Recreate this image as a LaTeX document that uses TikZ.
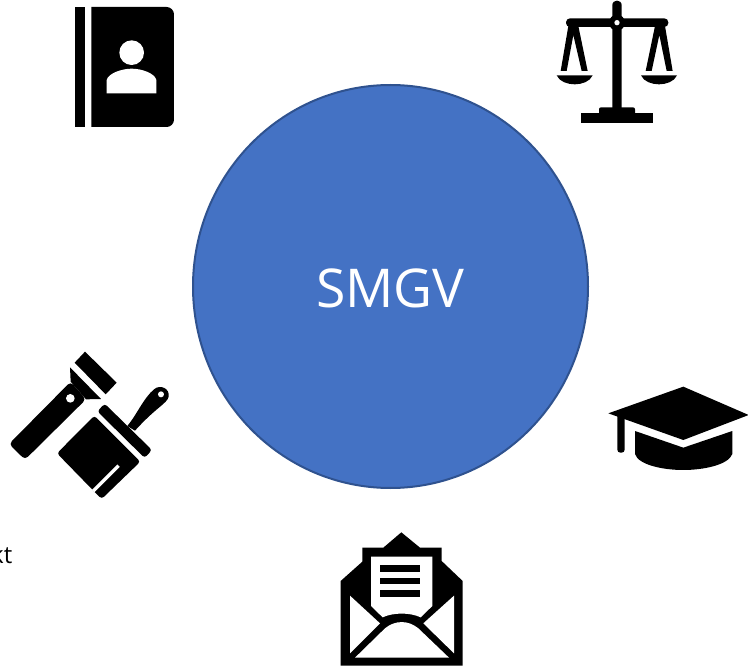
\documentclass[tikz,border=0pt]{standalone}
\usepackage{fontspec}
\setmainfont{Open Sans}
\definecolor{hubfill}{HTML}{4472C4}
\definecolor{hubline}{HTML}{2F528F}
\tikzset{
  hub/.style={ellipse,fill=hubfill,draw=hubline,line width=2pt,minimum width=395pt,minimum height=403pt,inner sep=0pt,text=white,font=\fontsize{53.5}{64}\selectfont},
  ink/.style={fill=black,draw=none},
  hole/.style={fill=white,draw=none},
  zoomed/.style={x=0.33333pt,y=-0.33333pt}
}
\usetikzlibrary{shapes.geometric}
\begin{document}
\begin{tikzpicture}[x=1pt,y=-1pt]
\useasboundingbox (0,0) rectangle (748,666);
\fill[white] (0,0) rectangle (748,666);
\node[hub,text depth=0pt] (smgv) at (390.5,286.5) {\raisebox{-3pt}{SMGV}};
% left text fragment
\begin{scope}
\clip (0,530) rectangle (30,580);
\node[anchor=base east,inner sep=0pt,font=\fontsize{24}{28}\selectfont] (frag) at (12.5,563) {kt};
\end{scope}
% address book
\begin{scope}[shift={(50,0)},zoomed]
\fill[ink] (75,21) rectangle (105,381);
\fill[ink] (124,21) -- (350,21) .. controls (362,21) and (372,31) .. (372,43) -- (372,359) .. controls (372,371) and (362,381) .. (350,381) -- (124,381) -- cycle;
\fill[hole] (245,158) circle[radius=37];
\fill[hole] (170,280) -- (170,240) .. controls (175,220) and (215,206) .. (245,206) .. controls (275,206) and (315,220) .. (319,240) -- (319,280) -- cycle;
\end{scope}
% scales
\begin{scope}[shift={(540,0)},zoomed]
\fill[ink] (217,16) .. controls (217,-3) and (245,-3) .. (245,16) -- (245,325) -- (217,325) -- cycle;
\fill[ink,rounded corners=4pt] (78,55) rectangle (385,81);
\fill[ink] (231,68) circle[radius=24];
\fill[hole] (231,68) circle[radius=8];
\fill[ink] (123,340) rectangle (340,368);
\fill[ink,rounded corners=2pt] (177,322) rectangle (285,345);
% left frame
\fill[ink] (85,78) -- (115,78) -- (143,213) -- (125,213) -- (100,105) -- (80,213) -- (62,213) -- cycle;
\fill[ink] (50,226) -- (158,226) .. controls (150,245) and (125,253) .. (104,253) .. controls (83,253) and (58,245) .. (50,226) -- cycle;
% right frame
\fill[ink] (345,78) -- (375,78) -- (398,213) -- (380,213) -- (358,105) -- (335,213) -- (317,213) -- cycle;
\fill[ink] (303,226) -- (411,226) .. controls (403,245) and (378,253) .. (357,253) .. controls (336,253) and (311,245) .. (303,226) -- cycle;
\end{scope}
% flashlight and brush
\begin{scope}[shift={(0,340)},zoomed]
\fill[ink] (255,35) -- (350,128) -- (317,163) -- (224,68) -- cycle;
\fill[ink,rounded corners=4pt] (212,125) -- (27,312) -- (75,359) -- (258,178) -- cycle;
\fill[ink] (210,82) -- (303,177) -- (258,178) -- (212,125) -- cycle;
\fill[hole] (211,175) circle[radius=13];
% brush
\fill[ink,rounded corners=3pt] (314,191) -- (456,330) -- (434,354) -- (292,214) -- cycle;
\fill[ink,rounded corners=3pt] (283,227) -- (421,365) -- (305,477) -- (288,460) -- (171,340) -- cycle;
\draw[white,line width=3.3pt] (356,377) -- (280,453);
\fill[ink] (382,258) .. controls (410,225) and (430,175) .. (462,148) .. controls (480,132) and (510,145) .. (506,170) .. controls (500,192) and (470,200) .. (405,272) -- cycle;
\fill[hole] (483,163) circle[radius=9];
\end{scope}
% graduation cap
\begin{scope}[shift={(600,380)},zoomed]
\fill[ink] (25,100) -- (250,20) -- (446,105) -- (250,180) -- cycle;
\fill[ink,rounded corners=3pt] (52,100) -- (74,100) -- (74,218) -- (52,218) -- cycle;
\fill[ink] (105,153) -- (250,203) -- (397,153) -- (397,222) .. controls (385,255) and (310,270) .. (250,270) .. controls (190,270) and (115,255) .. (105,222) -- cycle;
\end{scope}
% open envelope
\begin{scope}[shift={(330,525)},zoomed]
\fill[ink] (32,168) -- (97,110) -- (97,68) -- (160,68) -- (214,22) -- (270,68) -- (335,68) -- (335,108) -- (398,168) -- (398,422) -- (32,422) -- cycle;
\fill[hole] (123,95) -- (307,95) -- (307,243) -- (272,277) .. controls (240,262) and (190,262) .. (158,277) -- (123,243) -- cycle;
\fill[ink] (150,120) rectangle (270,140);
\fill[ink] (150,158) rectangle (270,178);
\fill[ink] (150,195) rectangle (270,215);
\fill[hole] (60,212) -- (150,295) -- (60,385) -- cycle;
\fill[hole] (372,212) -- (280,295) -- (372,385) -- cycle;
\fill[hole] (75,398) -- (165,310) .. controls (195,285) and (235,285) .. (265,310) -- (357,398) -- cycle;
\end{scope}
\end{tikzpicture}
\end{document}
